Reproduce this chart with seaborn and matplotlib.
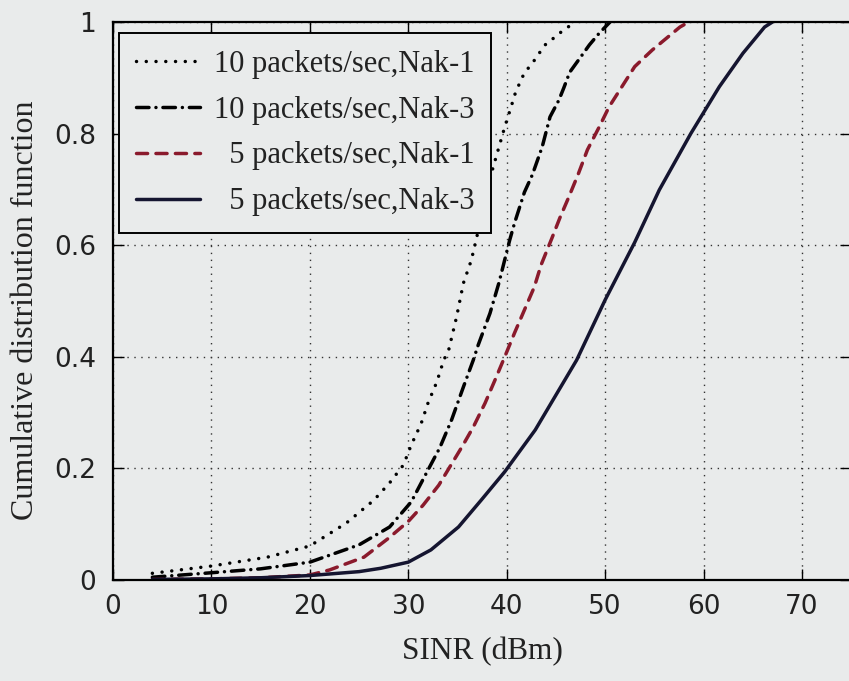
import matplotlib
matplotlib.use("Agg")
import matplotlib.pyplot as plt
import seaborn as sns
import pandas as pd

# ---- data ----
x_10_nak1 = [4, 10, 15.7, 20, 23.7, 26.5, 28.1, 29.5, 30.3, 31.3, 32.0, 32.9, 33.6, 34.1, 34.9,
             35.6, 36.4, 36.9, 38.3, 39.8, 40.5, 40.8, 41.3, 41.8, 42.6, 43.3, 43.9, 44.9, 45.8, 47.0]
y_10_nak1 = [0.012, 0.025, 0.041, 0.061, 0.102, 0.143, 0.174, 0.206, 0.242, 0.28, 0.317, 0.355, 0.394, 0.412, 0.471,
             0.532, 0.573, 0.61, 0.72, 0.812, 0.851, 0.869, 0.89, 0.909, 0.926, 0.944, 0.959, 0.973, 0.986, 1.0]

x_10_nak3 = [4, 10, 15, 20, 25, 28.1, 30.3, 31.7, 33.2, 34.4, 35.6, 36.6, 37.1, 38.3, 39.2, 40.3, 40.8,
             41.8, 42.6, 43.6, 44.4, 45.3, 45.8, 46.4, 47.3, 48.4, 49.4, 50.5]
y_10_nak3 = [0.005, 0.013, 0.02, 0.032, 0.063, 0.095, 0.14, 0.187, 0.237, 0.287, 0.346, 0.394, 0.421, 0.478, 0.532, 0.609, 0.64,
             0.695, 0.726, 0.776, 0.83, 0.86, 0.882, 0.91, 0.932, 0.959, 0.98, 1.0]

x_5_nak1 = [4, 10, 15, 20, 22, 25.5, 28, 30, 31.5, 33.1, 34.3, 35.5, 36.6, 37.8, 38.8, 39.8, 40.8, 41.8,
            42.8, 43.5, 44.6, 45.4, 46.3, 47.3, 48.2, 49.4, 50.4, 51.7, 53, 54.8, 57.6, 58.5]
y_5_nak1 = [0.001, 0.002, 0.004, 0.009, 0.018, 0.041, 0.075, 0.105, 0.134, 0.17, 0.205, 0.24, 0.274, 0.317, 0.358, 0.4, 0.443, 0.484,
            0.525, 0.565, 0.613, 0.649, 0.686, 0.729, 0.771, 0.812, 0.848, 0.884, 0.92, 0.95, 0.991, 1.0]

x_5_nak3 = [4, 10, 15, 20, 25, 27.2, 30, 32.3, 35.1, 37.4, 39.8, 42.9, 47.1, 50, 53, 55.5, 58.7, 61.6, 64, 66.2, 67]
y_5_nak3 = [0.001, 0.002, 0.004, 0.008, 0.015, 0.021, 0.032, 0.054, 0.095, 0.143, 0.194, 0.269, 0.394, 0.502, 0.605,
            0.699, 0.8, 0.884, 0.944, 0.991, 1.0]

labels = ["10 packets/sec,Nak-1", "10 packets/sec,Nak-3", "  5 packets/sec,Nak-1", "  5 packets/sec,Nak-3"]
x_ticks = [0, 10, 20, 30, 40, 50, 60, 70]
y_ticks = [0, 0.2, 0.4, 0.6, 0.8, 1.0]
y_tick_labels = ["0", "0.2", "0.4", "0.6", "0.8", "1"]

# ---- style ----
sns.set_theme(style="ticks")
bg = "#e9ebeb"
plt.rcParams["font.family"] = ["DejaVu Sans"]

fig = plt.figure(figsize=(8.49, 6.81), dpi=100, facecolor=bg)
ax = fig.add_axes([113 / 849, 101 / 681, 75 * 9.843 / 849, 558 / 681])
ax.set_facecolor(bg)

series = [
    (x_10_nak1, y_10_nak1, labels[0], "black", (0, (0.01, 2.8))),
    (x_10_nak3, y_10_nak3, labels[1], "black", (0, (3.6, 2.0, 0.01, 2.0))),
    (x_5_nak1, y_5_nak1, labels[2], "#8a1a2c", (0, (3.2, 2.4))),
    (x_5_nak3, y_5_nak3, labels[3], "#151530", "-"),
]
for xs, ys, lab, col, ls in series:
    df = pd.DataFrame({"x": xs, "y": ys})
    sns.lineplot(data=df, x="x", y="y", ax=ax, color=col, linewidth=2.5,
                 label=lab, estimator=None, sort=False)
    line = ax.lines[-1]
    line.set_linestyle(ls)
    line.set_dash_capstyle("round")
    line.set_solid_capstyle("round")
    line.set_solid_joinstyle("round")

ax.set_xlim(0, 75)
ax.set_ylim(0, 1)
ax.set_xticks(x_ticks)
ax.set_yticks(y_ticks)
ax.set_yticklabels(y_tick_labels)
ax.tick_params(direction="in", length=8, width=1.0, top=True, right=True,
               labelsize=19, colors="black", pad=10)
ax.tick_params(axis="y", pad=12)
for t in ax.get_xticklabels() + ax.get_yticklabels():
    t.set_color("#222222")

ax.grid(True, linestyle=(0, (1, 4)), color="#333333", linewidth=1.0)
for s in ax.spines.values():
    s.set_linewidth(1.6)
    s.set_color("black")

ax.set_xlabel("SINR (dBm)", family=["Liberation Serif"], fontsize=22.5, labelpad=12, color="#222222")
ax.set_ylabel("Cumulative distribution function", family=["Liberation Serif"], fontsize=23,
              color="#222222")
ax.yaxis.set_label_coords(-0.099, 0.484)

leg = ax.legend(loc="upper left", bbox_to_anchor=(6 / 739, 1 - 11 / 558),
                prop={"family": "Liberation Serif", "size": 22},
                frameon=True, fancybox=False, framealpha=1.0, facecolor=bg,
                edgecolor="black", handlelength=2.1, handletextpad=0.45,
                labelspacing=0.55, borderaxespad=0.0, borderpad=0.55)
leg.get_frame().set_linewidth(1.4)
for t in leg.get_texts():
    t.set_color("#222222")

fig.savefig("out.png", dpi=100, facecolor=bg)
